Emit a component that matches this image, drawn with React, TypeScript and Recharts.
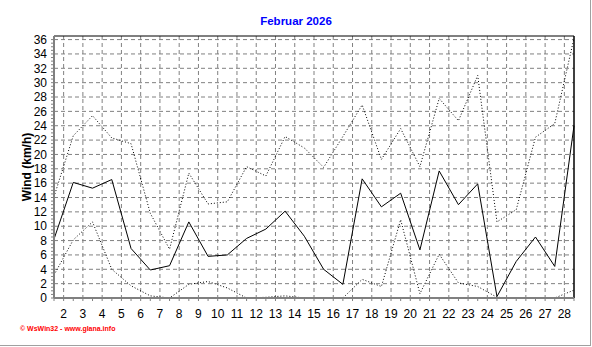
import React from 'react';
import { LineChart, Line, XAxis, YAxis, CartesianGrid, ReferenceLine } from 'recharts';

const days = [1, 2, 3, 4, 5, 6, 7, 8, 9, 10, 11, 12, 13, 14, 15, 16, 17, 18, 19, 20, 21, 22, 23, 24, 25, 26, 27, 28];
const avgWind = [8.2, 16.1, 15.3, 16.5, 6.9, 3.9, 4.5, 10.6, 5.8, 6.0, 8.3, 9.6, 12.1, 8.6, 4.0, 1.9, 16.6, 12.7, 14.6, 6.7, 17.7, 13.0, 15.9, 0.2, 5.1, 8.5, 4.4, 24.0];
const maxWind = [14.1, 22.6, 25.4, 22.3, 21.5, 11.8, 6.8, 17.4, 13.1, 13.4, 18.3, 17.0, 22.5, 20.9, 18.2, 22.5, 26.9, 19.3, 23.6, 18.3, 27.8, 24.7, 31.0, 10.6, 12.3, 22.4, 24.3, 36.2];
const minWind = [3.2, 8.1, 10.6, 4.0, 1.7, 0.3, 0.0, 1.9, 2.3, 1.4, 0.0, 0.1, 0.3, 0.0, 0.0, 0.0, 2.6, 1.6, 10.9, 0.6, 6.1, 2.1, 1.6, 0.1, 0.0, 0.0, 0.0, 1.1];
const xLabelTicks = [1.5, 2.5, 3.5, 4.5, 5.5, 6.5, 7.5, 8.5, 9.5, 10.5, 11.5, 12.5, 13.5, 14.5, 15.5, 16.5, 17.5, 18.5, 19.5, 20.5, 21.5, 22.5, 23.5, 24.5, 25.5, 26.5, 27.5];
const yMajorTicks = [0, 2, 4, 6, 8, 10, 12, 14, 16, 18, 20, 22, 24, 26, 28, 30, 32, 34, 36];
const X_DOMAIN: [number, number] = [1, 28];
const Y_DOMAIN: [number, number] = [0, 36.5];

const xMinorTicks: number[] = [];
for (let i = 0; i <= 54; i++) xMinorTicks.push(1 + i * 0.5);
const yMinorTicks: number[] = [];
for (let i = 0; i <= 72; i++) yMinorTicks.push(i * 0.5);

const data = days.map((d, i) => ({ day: d, avg: avgWind[i], max: maxWind[i], min: minWind[i] }));

const tickStyle = { fill: '#000', fontSize: 12, fontFamily: 'Liberation Sans, Arial, sans-serif' };

const vGen = (p: any) => {
  const sc = p && p.xAxis && p.xAxis.scale;
  if (typeof sc === 'function') return xLabelTicks.map((t) => sc(t));
  const { left, width } = p.offset;
  return xLabelTicks.map((t) => left + ((t - X_DOMAIN[0]) / (X_DOMAIN[1] - X_DOMAIN[0])) * width);
};
const hGen = (p: any) => {
  const sc = p && p.yAxis && p.yAxis.scale;
  if (typeof sc === 'function') return yMajorTicks.map((t) => sc(t));
  const { top, height } = p.offset;
  return yMajorTicks.map((t) => top + (1 - (t - Y_DOMAIN[0]) / (Y_DOMAIN[1] - Y_DOMAIN[0])) * height);
};

export default function App() {
  return (
    <div style={{ position: 'absolute', left: 0, top: 0, width: 590, height: 345, borderRight: '1px solid #a0a0a0', borderBottom: '1px solid #a0a0a0', background: '#fff' }}>
      <div style={{ position: 'absolute', top: 14, left: 0, width: 592, textAlign: 'center', fontSize: 11.5, lineHeight: '14px', fontWeight: 'bold', color: '#0000FF', fontFamily: 'Liberation Sans, Arial, sans-serif' }}>
        Februar 2026
      </div>
      <LineChart width={590} height={345} data={data} margin={{ top: 36, right: 16, left: 0, bottom: 27 }}>
        <CartesianGrid stroke="#808080" strokeDasharray="4 3" verticalCoordinatesGenerator={vGen} horizontalCoordinatesGenerator={hGen} />
        <XAxis
          dataKey="day"
          type="number"
          domain={X_DOMAIN}
          ticks={xMinorTicks}
          interval={0}
          height={20}
          tickSize={3}
          tickMargin={8}
          tickFormatter={(v: number) => (Math.abs((v % 1) - 0.5) < 1e-6 ? String(v + 0.5) : '')}
          axisLine={{ stroke: '#808080', strokeWidth: 2 }}
          tickLine={{ stroke: '#808080' }}
          tick={tickStyle}
        />
        <YAxis
          type="number"
          domain={Y_DOMAIN}
          ticks={yMinorTicks}
          interval={0}
          width={54}
          tickSize={3}
          tickMargin={4}
          tickFormatter={(v: number) => (v % 2 === 0 ? String(v) : '')}
          axisLine={{ stroke: '#808080', strokeWidth: 2 }}
          tickLine={{ stroke: '#808080' }}
          tick={tickStyle}
          label={{ value: 'Wind (km/h)', angle: -90, position: 'insideLeft', offset: 27, style: { textAnchor: 'middle', fontWeight: 'bold', fontSize: 12, fill: '#000', fontFamily: 'Liberation Sans, Arial, sans-serif' } }}
        />
        <ReferenceLine y={36.5} stroke="#000" />
        <ReferenceLine x={28} stroke="#000" strokeWidth={1.5} />
        <Line type="linear" dataKey="max" stroke="#000" strokeWidth={1} strokeDasharray="1 2" dot={false} isAnimationActive={false} />
        <Line type="linear" dataKey="min" stroke="#000" strokeWidth={1} strokeDasharray="1 2" dot={false} isAnimationActive={false} />
        <Line type="linear" dataKey="avg" stroke="#000" strokeWidth={1} dot={false} isAnimationActive={false} />
      </LineChart>
      <div style={{ position: 'absolute', top: 325, left: 20, fontSize: 7, lineHeight: '8px', fontWeight: 'bold', color: '#FF0000', fontFamily: 'Liberation Sans, Arial, sans-serif', whiteSpace: 'nowrap' }}>
        © WsWin32 - www.glana.info
      </div>
    </div>
  );
}
